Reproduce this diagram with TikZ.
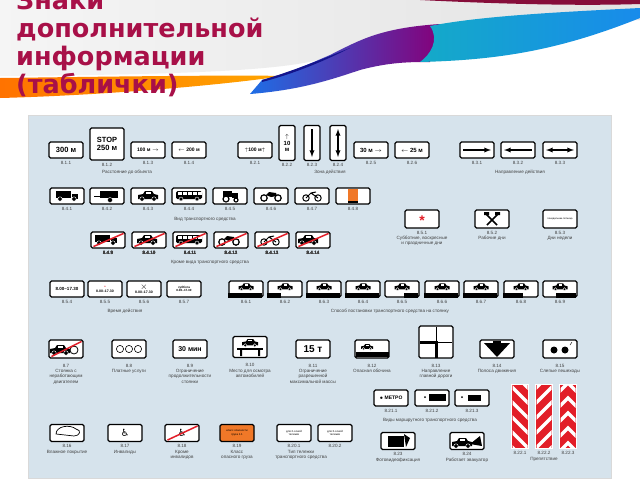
\documentclass[tikz,border=0pt]{standalone}
\usepackage{fontspec}
\setmainfont{Liberation Sans}
\newfontfamily\titlefont{DejaVu Sans}
\usetikzlibrary{positioning,calc}
\definecolor{titlered}{RGB}{168,16,72}
\definecolor{panelblue}{RGB}{214,227,236}
\definecolor{signred}{RGB}{226,30,40}
\definecolor{signorange}{RGB}{240,120,40}
\definecolor{swblue}{RGB}{30,110,230}
\definecolor{swnavy}{RGB}{20,20,140}
\definecolor{swcyan}{RGB}{20,170,200}
\newcommand\lbl{\fontsize{4.6}{5.2}\selectfont}
\newcommand\signfont{\fontsize{7.5}{8}\selectfont\bfseries}
% vehicle glyphs, centre given
\newcommand\carglyph[1]{\begin{scope}[shift={(#1)}]
\fill (-10,3) -- (-10,-1) -- (-5,-2) -- (-3,-5) -- (4,-5) -- (6,-2) -- (10,-1) -- (10,3) -- cycle;
\fill[white] (-2,-4) rectangle (3,-2);
\draw[white,fill=black] (-6,3) circle (2.2) (6,3) circle (2.2);
\end{scope}}
\newcommand\truckglyph[1]{\begin{scope}[shift={(#1)}]
\fill (-11,-5) rectangle (4,2); \fill (5,-2) rectangle (11,3);
\draw[white,fill=black] (-7,3) circle (2.2) (7,3) circle (2.2);
\end{scope}}
\newcommand\busglyph[1]{\begin{scope}[shift={(#1)}]
\fill[rounded corners=1.5] (-13,-5) rectangle (13,3);
\foreach \w in {-11,-6,...,9} \fill[white] (\w,-4) rectangle (\w+3.5,-1.5);
\draw[white,fill=black] (-8,3) circle (2) (8,3) circle (2);
\end{scope}}
\newcommand\bikeglyph[1]{\begin{scope}[shift={(#1)}]
\draw[line width=1] (-6,2) circle (3.2) (6,2) circle (3.2) (-6,2) -- (-1,-3) -- (6,2) (-1,-3) -- (4,-4);
\end{scope}}
\newcommand\motoglyph[1]{\begin{scope}[shift={(#1)}]
\draw[line width=1.2] (-7,2) circle (3.2) (7,2) circle (3.2);
\fill (-5,-1) -- (-2,-4) -- (5,-3) -- (6,0) -- (0,1) -- cycle;
\end{scope}}
\newcommand\slashred[1]{\draw[signred,line width=1.5] ($(#1.south west)+(3,-2)$) -- ($(#1.north east)+(-2,2)$);}
\tikzset{
  plate/.style={draw=black,line width=1.1pt,fill=white,rounded corners=1.5pt,inner sep=0pt,minimum width=34pt,minimum height=16pt,font=\signfont},
  num/.style={font=\lbl,inner sep=0.5pt,text=black!75},
  capt/.style={font=\lbl,inner sep=0.5pt,align=center,text=black!75}
}
\begin{document}
\begin{tikzpicture}[x=1pt,y=-1pt]
\useasboundingbox (0,0) rectangle (640,480);
\fill[white] (0,0) rectangle (640,480);
% header background and swoosh
\shade[left color=gray!8,right color=gray!22] (0,0) -- (640,0) -- (640,20) .. controls (520,22) and (420,25) .. (350,50) .. controls (310,65) and (280,74) .. (0,76) -- cycle;
\shade[left color=orange!90!red,right color=orange!70!yellow] (0,78) .. controls (150,76) and (240,75) .. (284,76) .. controls (200,88) and (80,96) .. (0,98) -- cycle;
\shade[left color=swblue,right color=purple!70!blue] (250,94) .. controls (300,90) and (330,80) .. (360,70) .. controls (390,62) and (410,62) .. (430,62) -- (440,24) .. controls (380,28) and (360,40) .. (330,55) .. controls (300,68) and (285,74) .. (262,80) -- cycle;
\fill[swnavy] (262,80) .. controls (290,72) and (320,60) .. (350,48) .. controls (330,58) and (300,72) .. (262,82) -- cycle;
\shade[left color=swcyan,right color=swblue!80!cyan] (420,62) .. controls (500,60) and (560,50) .. (640,18) -- (640,8) .. controls (560,12) and (480,16) .. (430,26) .. controls (440,40) and (430,55) .. (420,62) -- cycle;
\fill[titlered!80!black] (420,0) .. controls (500,4) and (580,6) .. (640,4) -- (640,0) -- cycle;
% title
\node[anchor=north west,align=left,inner sep=0,text=titlered,font=\titlefont\fontsize{25.5}{28}\selectfont\bfseries] (title) at (16,-10) {Знаки\\дополнительной\\информации\\(таблички)};
% panel
\fill[panelblue] (28,115) rectangle (611,478);
\draw[black!15] (28,115) rectangle (611,478);

% row 1: distance
\node[plate] (p811) at (66,150) {300 м};
\node[plate,minimum height=32pt,align=center] (p812) at (107,144) {STOP\\250 м};
\node[plate,font=\fontsize{5}{6}\selectfont\bfseries] (p813) at (148,150) {100 м $\rightarrow$};
\node[plate,font=\fontsize{5}{6}\selectfont\bfseries] (p814) at (189,150) {$\leftarrow$ 200 м};
\foreach \p/\t in {p811/8.1.1,p812/8.1.2,p813/8.1.3,p814/8.1.4} \node[num,below=2pt of \p] {\t};
\node[capt] (c81) at (127,172) {Расстояние до объекта};
% zone
\node[plate,font=\fontsize{5}{6}\selectfont\bfseries] (p821) at (255,150) {$\uparrow$100 м$\uparrow$};
\node[plate,minimum width=16pt,minimum height=35pt,align=center,font=\fontsize{6}{6.5}\selectfont\bfseries] (p822) at (287,143) {$\uparrow$\\10\\м};
\node[plate,minimum width=16pt,minimum height=35pt] (p823) at (312,143) {};
\draw[line width=1.3,-latex] (312,129) -- (312,157);
\node[plate,minimum width=16pt,minimum height=35pt] (p824) at (338,143) {};
\draw[line width=1.3,latex-latex] (338,129) -- (338,157);
\node[plate,font=\fontsize{6}{6.5}\selectfont\bfseries] (p825) at (371,150) {30 м $\rightarrow$};
\node[plate,font=\fontsize{6}{6.5}\selectfont\bfseries] (p826) at (412,150) {$\leftarrow$ 25 м};
\foreach \p/\t in {p821/8.2.1,p822/8.2.2,p823/8.2.3,p824/8.2.4,p825/8.2.5,p826/8.2.6} \node[num,below=2pt of \p.south] {\t};
\node[capt] (c82) at (330,172) {Зона действия};
% direction
\node[plate] (p831) at (477,150) {};
\draw[line width=1.3,-latex] (463,150) -- (491,150);
\node[plate] (p832) at (518,150) {};
\draw[line width=1.3,latex-] (504,150) -- (532,150);
\node[plate] (p833) at (560,150) {};
\draw[line width=1.3,latex-latex] (546,150) -- (574,150);
\foreach \p/\t in {p831/8.3.1,p832/8.3.2,p833/8.3.3} \node[num,below=2pt of \p] {\t};
\node[capt] (c83) at (520,172) {Направление действия};

% row 2: vehicle type
\node[plate] (p841) at (67,196) {}; \truckglyph{67,196}
\node[plate] (p842) at (107,196) {};
\draw[line width=1] (94,196) -- (100,196); \fill (100,191) rectangle (118,198); \draw[white,fill=black] (110,200) circle (2.5);
\node[plate] (p843) at (148,196) {}; \carglyph{148,196}
\node[plate] (p844) at (189,196) {}; \busglyph{189,196}
\node[plate] (p845) at (230,196) {};
\fill (223,191) rectangle (232,197); \fill (232,193) rectangle (238,198); \draw[line width=1.2] (226,199) circle (3) (236,200) circle (2);
\node[plate] (p846) at (271,196) {}; \motoglyph{271,196}
\node[plate] (p847) at (312,196) {}; \bikeglyph{312,196}
\node[plate] (p848) at (353,196) {}; \fill[signorange] (348,189) rectangle (358,201); \fill (348,201) rectangle (358,203);
\foreach \p/\t in {p841/8.4.1,p842/8.4.2,p843/8.4.3,p844/8.4.4,p845/8.4.5,p846/8.4.6,p847/8.4.7,p848/8.4.8} \node[num,below=2pt of \p] {\t};
\node[capt] (c84) at (205,219) {Вид транспортного средства};
% days
\node[plate,minimum height=18pt] (p851) at (422,219) {};
\node[text=signred,font=\fontsize{14}{14}\selectfont\bfseries,inner sep=0] at (422,221) {*};
\node[plate,minimum height=18pt] (p852) at (492,219) {};
\draw[line width=1.5] (486,214) -- (497,225) (498,214) -- (487,225); \fill (484,212) rectangle (489,215) (495,212) rectangle (500,215);
\node[plate,minimum height=18pt,font=\fontsize{2.5}{3}\selectfont] (p853) at (560,219) {понедельник-пятница};
\node[num,below=2pt of p851] (n851) {8.5.1};
\node[capt,below=0.5pt of n851] (c851) {Субботние, воскресные\\и праздничные дни};
\node[num,below=2pt of p852] (n852) {8.5.2};
\node[capt,below=0.5pt of n852] (c852) {Рабочие дни};
\node[num,below=2pt of p853] (n853) {8.5.3};
\node[capt,below=0.5pt of n853] (c853) {Дни недели};

% row 3: except vehicle type
\node[plate] (p849) at (108,240) {}; \truckglyph{106,240}
\node[plate] (p8410) at (149,240) {}; \carglyph{147,240}
\node[plate] (p8411) at (190,240) {}; \busglyph{189,240}
\node[plate] (p8412) at (231,240) {}; \motoglyph{229,240}
\node[plate] (p8413) at (272,240) {}; \bikeglyph{270,240}
\node[plate] (p8414) at (313,240) {}; \carglyph{308,240}
\foreach \p in {p849,p8410,p8411,p8412,p8413,p8414} \slashred{\p}
\foreach \p/\t in {p849/8.4.9,p8410/8.4.10,p8411/8.4.11,p8412/8.4.12,p8413/8.4.13,p8414/8.4.14} \node[num,below=2pt of \p] {\t};
\node[capt] (c849) at (210,262) {Кроме вида транспортного средства};

% row 4: time
\node[plate,font=\fontsize{4.5}{5}\selectfont\bfseries] (p854) at (67,289) {8.00–17.30};
\node[plate,font=\fontsize{3.5}{4}\selectfont\bfseries,align=center] (p855) at (105,289) {\textcolor{signred}{*}\\8.00–17.30};
\node[plate,font=\fontsize{3.5}{4}\selectfont\bfseries,align=center] (p856) at (144,289) {\small$\times$\\8.00–17.30};
\node[plate,font=\fontsize{3}{3.5}\selectfont\bfseries,align=center] (p857) at (184,289) {суббота\\8.00–17.30};
\foreach \p/\t in {p854/8.5.4,p855/8.5.5,p856/8.5.6,p857/8.5.7} \node[num,below=2pt of \p] {\t};
\node[capt] (c854) at (125,311) {Время действия};
% parking method
\foreach \n/\x/\bl/\br in {1/246/0/34,2/285/0/14,3/324/0/34,4/363/0/34,5/402/20/34,6/442/0/34,7/481/0/34,8/521/0/20,9/560/14/34} {
  \node[plate] (p86\n) at (\x,289) {};
  \fill ($(p86\n.south west)+(\bl,-5)$) rectangle ($(p86\n.south west)+(\br,0)$);
  \begin{scope}[scale=0.75,transform shape] \carglyph{\x/0.75,287/0.75} \end{scope}
  \node[num,below=2pt of p86\n] {8.6.\n};
}
\node[capt] (c86) at (390,311) {Способ постановки транспортного средства на стоянку};

% row 5
\node[plate,minimum height=18pt] (p87) at (66,349) {}; \carglyph{60,350} \draw[line width=0.8] (74,350) circle (4); \slashred{p87}
\node[plate,minimum height=18pt] (p88) at (129,349) {};
\foreach \cx in {120,129,138} \draw[line width=0.6] (\cx,349) circle (3.6);
\node[plate,minimum height=18pt,font=\fontsize{7}{8}\selectfont\bfseries] (p89) at (190,349) {30 мин};
\node[plate,minimum height=21pt] (p810) at (250,347) {}; \begin{scope}[scale=0.8,transform shape] \carglyph{250/0.8,343/0.8} \end{scope} \fill (237,348) rectangle (263,350); \fill (240,350) rectangle (242,356) (258,350) rectangle (260,356);
\node[plate,minimum height=18pt,font=\fontsize{10}{10}\selectfont\bfseries] (p811b) at (313,349) {15 т};
\node[plate,minimum height=18pt] (p812b) at (372,349) {}; \fill (356,352) rectangle (389,357); \begin{scope}[scale=0.6,transform shape] \carglyph{367/0.6,347/0.6} \end{scope}
\node[plate,minimum height=32pt] (p813b) at (436,342) {};
\draw[line width=1] (420,342) -- (452,342) (436,327) -- (436,358);
\draw[line width=3] (420,342) -- (436,342) -- (436,358);
\node[plate,minimum height=18pt] (p814b) at (497,349) {};
\fill (484,343) -- (510,343) -- (497,357) -- cycle; \fill (493,341) rectangle (501,346);
\node[plate,minimum height=18pt] (p815) at (560,349) {};
\fill (554,350) circle (3.5) (565,350) circle (3.5); \draw (570,345) -- (572,342);
\foreach \p/\t/\c in {p87/8.7/{Стоянка с\\неработающим\\двигателем},p88/8.8/{Платные услуги},p89/8.9/{Ограничение\\продолжительности\\стоянки},p810/8.10/{Место для осмотра\\автомобилей},p811b/8.11/{Ограничение\\разрешенной\\максимальной массы},p812b/8.12/{Опасная обочина},p813b/8.13/{Направление\\главной дороги},p814b/8.14/{Полоса движения},p815/8.15/{Слепые пешеходы}} {
  \node[num,anchor=north] (n\p) at ($(\p.south)+(0,5)$) {\t};
  \node[capt,below=0.5pt of n\p] {\c};
}

% row 6 left
\node[plate,minimum height=17pt] (p816) at (67,433) {};
\draw[line width=0.7] (56,434) .. controls (56,426) and (70,424) .. (76,429) .. controls (82,430) and (80,436) .. (74,436) -- cycle;
\node[plate,minimum height=17pt] (p817) at (125,433) {};
\node[font=\fontsize{10}{10}\selectfont,inner sep=0] (wc1) at (125,433) {\titlefont ♿};
\node[plate,minimum height=17pt] (p818) at (182,433) {};
\node[font=\fontsize{10}{10}\selectfont,inner sep=0] (wc2) at (182,433) {\titlefont ♿}; \slashred{p818}
\node[plate,minimum height=17pt,fill=signorange,font=\fontsize{2.8}{3.2}\selectfont,align=center] (p819) at (237,433) {класс опасности\\груза 1.1};
\node[plate,minimum height=17pt,font=\fontsize{2.8}{3.2}\selectfont,align=center] (p8201) at (294,433) {для 2-осной\\тележки};
\node[plate,minimum height=17pt,font=\fontsize{2.8}{3.2}\selectfont,align=center] (p8202) at (335,433) {для 3-осной\\тележки};
\foreach \p/\t/\c in {p816/8.16/{Влажное покрытие},p817/8.17/{Инвалиды},p818/8.18/{Кроме\\инвалидов},p819/8.19/{Класс\\опасного груза}} {
  \node[num,below=2pt of \p] (n\p) {\t};
  \node[capt,below=0.5pt of n\p] {\c};
}
\node[num,below=2pt of p8201] (np8201) {8.20.1};
\node[num,below=2pt of p8202] (np8202) {8.20.2};
\node[capt,below=0.5pt of np8201.south east] (c820) {Тип тележки\\транспортного средства};

% route vehicles
\node[plate,font=\fontsize{5}{6}\selectfont\bfseries] (p8211) at (391,398) {$\bullet$ МЕТРО};
\node[plate] (p8212) at (432,398) {}; \fill (425,397) circle (1); \fill (429,394) rectangle (446,401);
\node[plate] (p8213) at (472,398) {}; \fill (462,397) circle (1); \fill (468,395) rectangle (481,401);
\foreach \p/\t in {p8211/8.21.1,p8212/8.21.2,p8213/8.21.3} \node[num,below=2pt of \p] {\t};
\node[capt] (c821) at (430,420) {Виды маршрутного транспортного средства};
\node[plate,minimum height=17pt] (p823b) at (398,441) {}; \fill (388,436) rectangle (404,447); \fill (404,434) -- (410,438) -- (406,447) -- cycle;
\node[plate,minimum height=17pt] (p824b) at (467,441) {}; \carglyph{462,443} \fill (470,444) -- (480,436) -- (482,446) -- cycle;
\node[num,below=2pt of p823b] (n823) {8.23};
\node[capt,below=0.5pt of n823] {Фотовидеофиксация};
\node[num,below=2pt of p824b] (n824) {8.24};
\node[capt,below=0.5pt of n824] {Работает эвакуатор};
% obstacle
\foreach \n/\x/\k in {1/520/1,2/544/-1,3/568/0} {
  \node[draw=white,line width=0.8pt,fill=signred,minimum width=17pt,minimum height=64pt,inner sep=0] (p822\n) at (\x,416) {};
  \begin{scope}
    \clip (\x-7.5,385) rectangle (\x+7.5,447);
    \ifnum\k=0
      \foreach \yy in {392,407,...,452} \draw[white,line width=3.5] (\x-9,\yy) -- (\x,\yy-9) -- (\x+9,\yy);
    \else
      \foreach \yy in {380,395,...,455} \draw[white,line width=3.5] (\x-9,\yy-9*\k) -- (\x+9,\yy+9*\k);
    \fi
  \end{scope}
  \node[num,below=2pt of p822\n] {8.22.\n};
}
\node[capt] (c822) at (544,459) {Препятствие};
\end{tikzpicture}
\end{document}
